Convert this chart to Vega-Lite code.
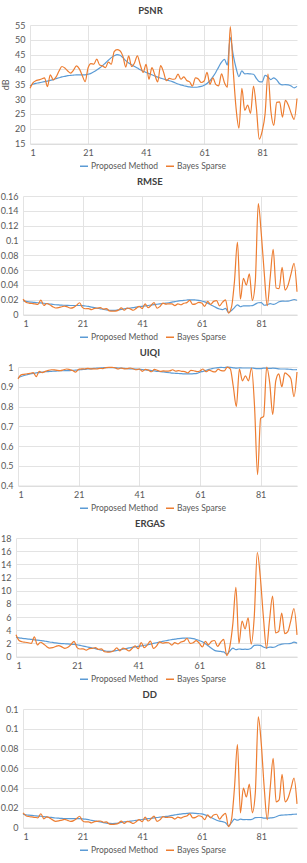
{
 "$schema": "https://vega.github.io/schema/vega-lite/v6.json",
 "padding": {"left": 0, "top": 5, "right": 0, "bottom": 0},
 "background": "white",
 "config": {
  "font": "Lato",
  "view": {"stroke": null},
  "axis": {"labelFont": "Lato", "labelFontSize": 9, "labelColor": "#595959", "gridColor": "#e3e3e3", "gridWidth": 1, "domain": false, "ticks": false, "titleFont": "Lato", "titleFontSize": 9, "titleColor": "#595959", "titleFontWeight": "normal"},
  "axisX": {"domain": true, "domainColor": "#d9d9d9", "labelPadding": 5},
  "axisY": {"labelPadding": 5},
  "title": {"font": "Lato", "fontSize": 9.5, "fontWeight": "bold", "color": "#404040", "anchor": "middle", "frame": "bounds", "offset": 6},
  "legend": {"orient": "none", "direction": "horizontal", "labelFont": "Lato", "labelFontSize": 8.5, "labelColor": "#595959", "symbolType": "stroke", "symbolSize": 64, "symbolStrokeWidth": 1.5, "title": null, "columnPadding": 4, "labelOffset": 2, "padding": 0, "legendY": 136}
 },
 "resolve": {"legend": {"color": "independent"}, "scale": {"color": "independent"}},
 "columns": 1,
 "spacing": 5,
 "align": "none",
 "bounds": "full",
 "datasets": {
  "d": [
{"x":1,"pp":34.5,"pb":33.7,"rp":0.0188,"rb":0.0207,"up":0.946,"ub":0.940,"ep":2.95,"eb":3.3,"dp":0.0137,"db":0.0149},
{"x":2,"pp":35.0,"pb":35.5,"rp":0.0178,"rb":0.0168,"up":0.952,"ub":0.960,"ep":2.85,"eb":2.44,"dp":0.0130,"db":0.0121},
{"x":3,"pp":35.3,"pb":36.2,"rp":0.0172,"rb":0.0155,"up":0.957,"ub":0.963,"ep":2.78,"eb":2.25,"dp":0.0126,"db":0.0112},
{"x":4,"pp":35.5,"pb":36.5,"rp":0.0168,"rb":0.0150,"up":0.961,"ub":0.966,"ep":2.72,"eb":2.18,"dp":0.0123,"db":0.0108},
{"x":5,"pp":35.7,"pb":36.8,"rp":0.0164,"rb":0.0145,"up":0.965,"ub":0.968,"ep":2.66,"eb":2.10,"dp":0.0120,"db":0.0104},
{"x":6,"pp":35.9,"pb":37.2,"rp":0.0160,"rb":0.0138,"up":0.968,"ub":0.972,"ep":2.60,"eb":2.00,"dp":0.0117,"db":0.0099},
{"x":7,"pp":36.1,"pb":34.2,"rp":0.0157,"rb":0.0195,"up":0.970,"ub":0.951,"ep":2.55,"eb":3.0,"dp":0.0115,"db":0.0140},
{"x":8,"pp":36.3,"pb":38.2,"rp":0.0153,"rb":0.0123,"up":0.972,"ub":0.978,"ep":2.50,"eb":1.78,"dp":0.0112,"db":0.0089},
{"x":9,"pp":36.6,"pb":36.5,"rp":0.0148,"rb":0.0150,"up":0.974,"ub":0.972,"ep":2.44,"eb":2.18,"dp":0.0108,"db":0.0108},
{"x":10,"pp":36.9,"pb":37.5,"rp":0.0143,"rb":0.0133,"up":0.976,"ub":0.978,"ep":2.38,"eb":1.93,"dp":0.0104,"db":0.0096},
{"x":11,"pp":37.2,"pb":39.5,"rp":0.0138,"rb":0.0106,"up":0.977,"ub":0.983,"ep":2.30,"eb":1.54,"dp":0.0101,"db":0.0076},
{"x":12,"pp":37.5,"pb":41.0,"rp":0.0133,"rb":0.0089,"up":0.978,"ub":0.986,"ep":2.22,"eb":1.29,"dp":0.0097,"db":0.0064},
{"x":13,"pp":37.7,"pb":40.5,"rp":0.0130,"rb":0.0094,"up":0.979,"ub":0.985,"ep":2.15,"eb":1.36,"dp":0.0095,"db":0.0068},
{"x":14,"pp":37.9,"pb":39.5,"rp":0.0127,"rb":0.0106,"up":0.980,"ub":0.983,"ep":2.08,"eb":1.54,"dp":0.0093,"db":0.0076},
{"x":15,"pp":38.0,"pb":38.8,"rp":0.0126,"rb":0.0115,"up":0.981,"ub":0.982,"ep":2.02,"eb":1.67,"dp":0.0092,"db":0.0083},
{"x":16,"pp":38.1,"pb":39.8,"rp":0.0124,"rb":0.0102,"up":0.981,"ub":0.986,"ep":1.98,"eb":1.48,"dp":0.0091,"db":0.0073},
{"x":17,"pp":38.2,"pb":41.2,"rp":0.0123,"rb":0.0087,"up":0.982,"ub":0.990,"ep":1.95,"eb":1.26,"dp":0.0090,"db":0.0063},
{"x":18,"pp":38.2,"pb":40.2,"rp":0.0123,"rb":0.0098,"up":0.982,"ub":0.987,"ep":1.92,"eb":1.42,"dp":0.0090,"db":0.0071},
{"x":19,"pp":38.2,"pb":38.0,"rp":0.0123,"rb":0.0126,"up":0.983,"ub":0.982,"ep":1.88,"eb":1.83,"dp":0.0090,"db":0.0091},
{"x":20,"pp":38.2,"pb":35.9,"rp":0.0123,"rb":0.0160,"up":0.984,"ub":0.974,"ep":1.85,"eb":2.32,"dp":0.0090,"db":0.0115},
{"x":21,"pp":38.4,"pb":40.5,"rp":0.0120,"rb":0.0094,"up":0.985,"ub":0.988,"ep":1.80,"eb":1.36,"dp":0.0088,"db":0.0068},
{"x":22,"pp":38.7,"pb":42.0,"rp":0.0116,"rb":0.0079,"up":0.987,"ub":0.991,"ep":1.70,"eb":1.15,"dp":0.0085,"db":0.0057},
{"x":23,"pp":39.2,"pb":41.8,"rp":0.0110,"rb":0.0081,"up":0.988,"ub":0.990,"ep":1.60,"eb":1.17,"dp":0.0080,"db":0.0058},
{"x":24,"pp":39.8,"pb":43.5,"rp":0.0102,"rb":0.0067,"up":0.990,"ub":0.993,"ep":1.50,"eb":0.97,"dp":0.0074,"db":0.0048},
{"x":25,"pp":40.5,"pb":41.5,"rp":0.0094,"rb":0.0084,"up":0.991,"ub":0.991,"ep":1.40,"eb":1.22,"dp":0.0069,"db":0.0060},
{"x":26,"pp":41.3,"pb":41.2,"rp":0.0086,"rb":0.0087,"up":0.993,"ub":0.991,"ep":1.30,"eb":1.26,"dp":0.0063,"db":0.0063},
{"x":27,"pp":42.2,"pb":40.6,"rp":0.0078,"rb":0.0093,"up":0.994,"ub":0.990,"ep":1.20,"eb":1.35,"dp":0.0057,"db":0.0067},
{"x":28,"pp":43.1,"pb":42.5,"rp":0.0070,"rb":0.0075,"up":0.995,"ub":0.993,"ep":1.08,"eb":1.09,"dp":0.0051,"db":0.0054},
{"x":29,"pp":44.0,"pb":41.8,"rp":0.0063,"rb":0.0081,"up":0.996,"ub":0.992,"ep":0.97,"eb":1.17,"dp":0.0046,"db":0.0058},
{"x":30,"pp":44.6,"pb":46.0,"rp":0.0059,"rb":0.0050,"up":0.997,"ub":0.997,"ep":0.88,"eb":0.73,"dp":0.0043,"db":0.0036},
{"x":31,"pp":45.0,"pb":46.7,"rp":0.0056,"rb":0.0046,"up":0.997,"ub":0.998,"ep":0.80,"eb":0.67,"dp":0.0041,"db":0.0033},
{"x":32,"pp":44.8,"pb":46.3,"rp":0.0058,"rb":0.0048,"up":0.997,"ub":0.998,"ep":0.80,"eb":0.70,"dp":0.0042,"db":0.0035},
{"x":33,"pp":44.0,"pb":44.5,"rp":0.0063,"rb":0.0060,"up":0.996,"ub":0.996,"ep":0.85,"eb":0.87,"dp":0.0046,"db":0.0043},
{"x":34,"pp":43.0,"pb":40.8,"rp":0.0071,"rb":0.0091,"up":0.995,"ub":0.990,"ep":0.93,"eb":1.32,"dp":0.0052,"db":0.0066},
{"x":35,"pp":42.2,"pb":44.6,"rp":0.0078,"rb":0.0059,"up":0.994,"ub":0.995,"ep":1.02,"eb":0.86,"dp":0.0057,"db":0.0042},
{"x":36,"pp":41.6,"pb":41.0,"rp":0.0083,"rb":0.0089,"up":0.993,"ub":0.991,"ep":1.12,"eb":1.29,"dp":0.0061,"db":0.0064},
{"x":37,"pp":41.0,"pb":42.2,"rp":0.0089,"rb":0.0078,"up":0.992,"ub":0.992,"ep":1.22,"eb":1.13,"dp":0.0065,"db":0.0056},
{"x":38,"pp":40.5,"pb":44.6,"rp":0.0094,"rb":0.0059,"up":0.991,"ub":0.995,"ep":1.32,"eb":0.86,"dp":0.0069,"db":0.0042},
{"x":39,"pp":39.9,"pb":41.5,"rp":0.0101,"rb":0.0084,"up":0.990,"ub":0.991,"ep":1.40,"eb":1.22,"dp":0.0074,"db":0.0060},
{"x":40,"pp":39.4,"pb":39.0,"rp":0.0107,"rb":0.0112,"up":0.989,"ub":0.986,"ep":1.48,"eb":1.62,"dp":0.0078,"db":0.0081},
{"x":41,"pp":39.0,"pb":41.7,"rp":0.0112,"rb":0.0082,"up":0.988,"ub":0.990,"ep":1.55,"eb":1.19,"dp":0.0082,"db":0.0059},
{"x":42,"pp":38.6,"pb":36.7,"rp":0.0117,"rb":0.0146,"up":0.987,"ub":0.978,"ep":1.63,"eb":2.12,"dp":0.0085,"db":0.0105},
{"x":43,"pp":38.2,"pb":40.6,"rp":0.0123,"rb":0.0093,"up":0.985,"ub":0.988,"ep":1.72,"eb":1.35,"dp":0.0090,"db":0.0067},
{"x":44,"pp":37.8,"pb":38.2,"rp":0.0129,"rb":0.0123,"up":0.984,"ub":0.984,"ep":1.80,"eb":1.78,"dp":0.0094,"db":0.0089},
{"x":45,"pp":37.4,"pb":35.8,"rp":0.0135,"rb":0.0162,"up":0.982,"ub":0.976,"ep":1.90,"eb":2.35,"dp":0.0099,"db":0.0117},
{"x":46,"pp":37.1,"pb":41.3,"rp":0.0140,"rb":0.0086,"up":0.980,"ub":0.988,"ep":2.00,"eb":1.25,"dp":0.0102,"db":0.0062},
{"x":47,"pp":36.8,"pb":39.2,"rp":0.0145,"rb":0.0110,"up":0.978,"ub":0.983,"ep":2.10,"eb":1.60,"dp":0.0106,"db":0.0079},
{"x":48,"pp":36.5,"pb":36.2,"rp":0.0150,"rb":0.0155,"up":0.977,"ub":0.978,"ep":2.20,"eb":2.25,"dp":0.0110,"db":0.0112},
{"x":49,"pp":36.2,"pb":37.0,"rp":0.0155,"rb":0.0141,"up":0.975,"ub":0.980,"ep":2.30,"eb":2.04,"dp":0.0113,"db":0.0102},
{"x":50,"pp":35.9,"pb":36.7,"rp":0.0160,"rb":0.0146,"up":0.973,"ub":0.979,"ep":2.40,"eb":2.12,"dp":0.0117,"db":0.0105},
{"x":51,"pp":35.5,"pb":36.8,"rp":0.0168,"rb":0.0145,"up":0.971,"ub":0.980,"ep":2.50,"eb":2.10,"dp":0.0123,"db":0.0104},
{"x":52,"pp":35.1,"pb":38.4,"rp":0.0176,"rb":0.0120,"up":0.969,"ub":0.986,"ep":2.58,"eb":1.74,"dp":0.0128,"db":0.0086},
{"x":53,"pp":34.8,"pb":36.7,"rp":0.0182,"rb":0.0146,"up":0.968,"ub":0.979,"ep":2.66,"eb":2.12,"dp":0.0133,"db":0.0105},
{"x":54,"pp":34.5,"pb":37.5,"rp":0.0188,"rb":0.0133,"up":0.967,"ub":0.982,"ep":2.72,"eb":1.93,"dp":0.0137,"db":0.0096},
{"x":55,"pp":34.3,"pb":36.3,"rp":0.0193,"rb":0.0153,"up":0.966,"ub":0.978,"ep":2.78,"eb":2.22,"dp":0.0141,"db":0.0110},
{"x":56,"pp":34.1,"pb":35.8,"rp":0.0197,"rb":0.0162,"up":0.965,"ub":0.977,"ep":2.80,"eb":2.35,"dp":0.0144,"db":0.0117},
{"x":57,"pp":34.0,"pb":34.4,"rp":0.0200,"rb":0.0191,"up":0.965,"ub":0.970,"ep":2.82,"eb":2.77,"dp":0.0146,"db":0.0138},
{"x":58,"pp":34.0,"pb":37.2,"rp":0.0200,"rb":0.0138,"up":0.965,"ub":0.983,"ep":2.80,"eb":2.00,"dp":0.0146,"db":0.0099},
{"x":59,"pp":34.1,"pb":36.8,"rp":0.0197,"rb":0.0145,"up":0.966,"ub":0.981,"ep":2.72,"eb":2.10,"dp":0.0144,"db":0.0104},
{"x":60,"pp":34.3,"pb":35.6,"rp":0.0193,"rb":0.0166,"up":0.968,"ub":0.977,"ep":2.60,"eb":2.41,"dp":0.0141,"db":0.0120},
{"x":61,"pp":34.7,"pb":36.1,"rp":0.0184,"rb":0.0157,"up":0.974,"ub":0.980,"ep":2.45,"eb":2.04,"dp":0.0138,"db":0.0113},
{"x":62,"pp":35.3,"pb":39.0,"rp":0.0172,"rb":0.0112,"up":0.978,"ub":0.990,"ep":2.25,"eb":1.46,"dp":0.0130,"db":0.0081},
{"x":63,"pp":36.2,"pb":35.0,"rp":0.0155,"rb":0.0178,"up":0.983,"ub":0.976,"ep":1.95,"eb":2.31,"dp":0.0120,"db":0.0128},
{"x":64,"pp":37.5,"pb":37.2,"rp":0.0133,"rb":0.0138,"up":0.988,"ub":0.984,"ep":1.60,"eb":1.79,"dp":0.0105,"db":0.0099},
{"x":65,"pp":39.0,"pb":35.0,"rp":0.0112,"rb":0.0178,"up":0.992,"ub":0.978,"ep":1.25,"eb":2.31,"dp":0.0090,"db":0.0128},
{"x":66,"pp":40.8,"pb":34.5,"rp":0.0091,"rb":0.0188,"up":0.995,"ub":0.975,"ep":0.95,"eb":2.44,"dp":0.0075,"db":0.0135},
{"x":67,"pp":42.5,"pb":38.5,"rp":0.0075,"rb":0.0119,"up":0.997,"ub":0.989,"ep":0.82,"eb":1.55,"dp":0.0065,"db":0.0086},
{"x":68,"pp":43.4,"pb":35.5,"rp":0.0068,"rb":0.0168,"up":0.998,"ub":0.982,"ep":0.78,"eb":2.18,"dp":0.0060,"db":0.0121},
{"x":69,"pp":41.5,"pb":34.0,"rp":0.0084,"rb":0.0200,"up":0.997,"ub":0.980,"ep":0.72,"eb":2.60,"dp":0.0050,"db":0.0144},
{"x":70,"pp":50.8,"pb":54.5,"rp":0.0029,"rb":0.0019,"up":0.999,"ub":0.999,"ep":0.36,"eb":0.15,"dp":0.0017,"db":0.0010},
{"x":71,"pp":45.0,"pb":40.0,"rp":0.0056,"rb":0.0100,"up":0.998,"ub":0.990,"ep":0.85,"eb":1.5,"dp":0.0050,"db":0.0080},
{"x":72,"pp":40.5,"pb":27.0,"rp":0.0094,"rb":0.0447,"up":0.996,"ub":0.900,"ep":1.30,"eb":5.0,"dp":0.0085,"db":0.0400},
{"x":73,"pp":37.6,"pb":20.2,"rp":0.0132,"rb":0.0977,"up":0.994,"ub":0.800,"ep":1.05,"eb":10.5,"dp":0.0075,"db":0.0840},
{"x":74,"pp":39.5,"pb":33.6,"rp":0.0106,"rb":0.0209,"up":0.996,"ub":0.990,"ep":1.15,"eb":2.0,"dp":0.0085,"db":0.0150},
{"x":75,"pp":38.5,"pb":26.2,"rp":0.0119,"rb":0.0490,"up":0.995,"ub":0.930,"ep":1.10,"eb":5.4,"dp":0.0080,"db":0.0400},
{"x":76,"pp":38.6,"pb":28.0,"rp":0.0117,"rb":0.0398,"up":0.995,"ub":0.955,"ep":1.12,"eb":4.2,"dp":0.0082,"db":0.0310},
{"x":77,"pp":38.5,"pb":25.2,"rp":0.0119,"rb":0.0550,"up":0.995,"ub":0.930,"ep":1.10,"eb":5.9,"dp":0.0080,"db":0.0440},
{"x":78,"pp":38.4,"pb":34.4,"rp":0.0120,"rb":0.0191,"up":0.995,"ub":0.995,"ep":1.25,"eb":1.9,"dp":0.0085,"db":0.0150},
{"x":79,"pp":37.0,"pb":27.0,"rp":0.0141,"rb":0.0447,"up":0.993,"ub":0.800,"ep":1.70,"eb":6.0,"dp":0.0100,"db":0.0350},
{"x":80,"pp":35.9,"pb":16.5,"rp":0.0160,"rb":0.1496,"up":0.992,"ub":0.455,"ep":1.75,"eb":15.8,"dp":0.0102,"db":0.1120},
{"x":81,"pp":35.8,"pb":19.2,"rp":0.0162,"rb":0.1096,"up":0.992,"ub":0.740,"ep":1.70,"eb":12.0,"dp":0.0102,"db":0.0850},
{"x":82,"pp":38.0,"pb":25.0,"rp":0.0126,"rb":0.0562,"up":0.994,"ub":0.750,"ep":1.45,"eb":6.0,"dp":0.0095,"db":0.0400},
{"x":83,"pp":37.5,"pb":38.4,"rp":0.0133,"rb":0.0120,"up":0.994,"ub":1.000,"ep":1.30,"eb":1.3,"dp":0.0095,"db":0.0080},
{"x":84,"pp":36.6,"pb":26.0,"rp":0.0148,"rb":0.0501,"up":0.993,"ub":0.920,"ep":1.45,"eb":5.5,"dp":0.0098,"db":0.0400},
{"x":85,"pp":37.2,"pb":21.1,"rp":0.0138,"rb":0.0881,"up":0.994,"ub":0.760,"ep":1.40,"eb":9.2,"dp":0.0100,"db":0.0700},
{"x":86,"pp":36.5,"pb":28.9,"rp":0.0150,"rb":0.0359,"up":0.993,"ub":0.930,"ep":1.50,"eb":3.6,"dp":0.0110,"db":0.0260},
{"x":87,"pp":35.2,"pb":29.1,"rp":0.0174,"rb":0.0351,"up":0.991,"ub":0.965,"ep":1.75,"eb":3.8,"dp":0.0122,"db":0.0280},
{"x":88,"pp":34.8,"pb":23.9,"rp":0.0182,"rb":0.0638,"up":0.990,"ub":0.900,"ep":1.90,"eb":6.6,"dp":0.0126,"db":0.0540},
{"x":89,"pp":34.9,"pb":29.6,"rp":0.0180,"rb":0.0331,"up":0.990,"ub":0.970,"ep":1.95,"eb":3.5,"dp":0.0128,"db":0.0260},
{"x":90,"pp":34.8,"pb":28.0,"rp":0.0182,"rb":0.0398,"up":0.989,"ub":0.960,"ep":1.95,"eb":3.8,"dp":0.0130,"db":0.0300},
{"x":91,"pp":34.4,"pb":25.2,"rp":0.0191,"rb":0.0550,"up":0.988,"ub":0.940,"ep":2.00,"eb":5.5,"dp":0.0132,"db":0.0400},
{"x":92,"pp":33.8,"pb":23.2,"rp":0.0204,"rb":0.0692,"up":0.986,"ub":0.850,"ep":2.20,"eb":7.3,"dp":0.0135,"db":0.0500},
{"x":93,"pp":34.3,"pb":30.2,"rp":0.0193,"rb":0.0309,"up":0.987,"ub":0.975,"ep":2.05,"eb":3.3,"dp":0.0136,"db":0.0240}
  ]
 },
 "concat": [
  {
   "title": "PSNR",
   "width": 281, "height": 118.6,
   "data": {"name": "d"},
   "transform": [{"fold": ["pp", "pb"], "as": ["s", "v"]}],
   "mark": {"type": "line", "interpolate": "monotone", "strokeWidth": 1.2},
   "encoding": {
    "x": {"field": "x", "type": "quantitative", "scale": {"domain": [1, 93], "range": [14, 281], "nice": false, "zero": false}, "axis": {"values": [1, 21, 41, 61, 81], "title": null, "format": "d"}},
    "y": {"field": "v", "type": "quantitative", "scale": {"domain": [15, 55], "nice": false, "zero": false}, "axis": {"values": [15, 20, 25, 30, 35, 40, 45, 50, 55], "offset": -14, "title": "dB", "titlePadding": 4, "format": "~g"}},
    "color": {"field": "s", "type": "nominal", "scale": {"domain": ["pp", "pb"], "range": ["#5B9BD5", "#ED7D31"]}, "legend": {"legendX": 63, "labelExpr": "datum.value == 'pp' ? 'Proposed Method' : 'Bayes Sparse'"}}
   }
  },
  {
   "title": "RMSE",
   "width": 281, "height": 118.6,
   "data": {"name": "d"},
   "transform": [{"fold": ["rp", "rb"], "as": ["s", "v"]}],
   "mark": {"type": "line", "interpolate": "monotone", "strokeWidth": 1.2},
   "encoding": {
    "x": {"field": "x", "type": "quantitative", "scale": {"domain": [1, 93], "range": [7, 281], "nice": false, "zero": false}, "axis": {"values": [1, 21, 41, 61, 81], "title": null, "format": "d"}},
    "y": {"field": "v", "type": "quantitative", "scale": {"domain": [0, 0.16], "nice": false}, "axis": {"values": [0, 0.02, 0.04, 0.06, 0.08, 0.1, 0.12, 0.14, 0.16], "offset": -7, "title": null, "format": "~g"}},
    "color": {"field": "s", "type": "nominal", "scale": {"domain": ["rp", "rb"], "range": ["#5B9BD5", "#ED7D31"]}, "legend": {"legendX": 63, "labelExpr": "datum.value == 'rp' ? 'Proposed Method' : 'Bayes Sparse'"}}
   }
  },
  {
   "title": "UIQI",
   "width": 281, "height": 118.6,
   "data": {"name": "d"},
   "transform": [{"fold": ["up", "ub"], "as": ["s", "v"]}],
   "mark": {"type": "line", "interpolate": "monotone", "strokeWidth": 1.2},
   "encoding": {
    "x": {"field": "x", "type": "quantitative", "scale": {"domain": [1, 93], "range": [2, 281], "nice": false, "zero": false}, "axis": {"values": [1, 21, 41, 61, 81], "title": null, "format": "d"}},
    "y": {"field": "v", "type": "quantitative", "scale": {"domain": [0.4, 1], "nice": false, "zero": false}, "axis": {"values": [0.4, 0.5, 0.6, 0.7, 0.8, 0.9, 1], "offset": -2, "title": null, "format": "~g"}},
    "color": {"field": "s", "type": "nominal", "scale": {"domain": ["up", "ub"], "range": ["#5B9BD5", "#ED7D31"]}, "legend": {"legendX": 63, "labelExpr": "datum.value == 'up' ? 'Proposed Method' : 'Bayes Sparse'"}}
   }
  },
  {
   "title": "ERGAS",
   "width": 281, "height": 118.6,
   "data": {"name": "d"},
   "transform": [{"fold": ["ep", "eb"], "as": ["s", "v"]}],
   "mark": {"type": "line", "interpolate": "monotone", "strokeWidth": 1.2},
   "encoding": {
    "x": {"field": "x", "type": "quantitative", "scale": {"domain": [1, 93], "range": [0, 281], "nice": false, "zero": false}, "axis": {"values": [1, 21, 41, 61, 81], "title": null, "format": "d"}},
    "y": {"field": "v", "type": "quantitative", "scale": {"domain": [0, 18], "nice": false}, "axis": {"values": [0, 2, 4, 6, 8, 10, 12, 14, 16, 18], "title": null, "format": "~g"}},
    "color": {"field": "s", "type": "nominal", "scale": {"domain": ["ep", "eb"], "range": ["#5B9BD5", "#ED7D31"]}, "legend": {"legendX": 63, "labelExpr": "datum.value == 'ep' ? 'Proposed Method' : 'Bayes Sparse'"}}
   }
  },
  {
   "title": "DD",
   "width": 281, "height": 118.6,
   "data": {"name": "d"},
   "transform": [{"fold": ["dp", "db"], "as": ["s", "v"]}],
   "mark": {"type": "line", "interpolate": "monotone", "strokeWidth": 1.2},
   "encoding": {
    "x": {"field": "x", "type": "quantitative", "scale": {"domain": [1, 93], "range": [7, 281], "nice": false, "zero": false}, "axis": {"values": [1, 21, 41, 61, 81], "title": null, "format": "d"}},
    "y": {"field": "v", "type": "quantitative", "scale": {"domain": [0, 0.12], "nice": false}, "axis": {"values": [0, 0.02, 0.04, 0.06, 0.08, 0.1, 0.12], "offset": -7, "title": null, "format": "~g"}},
    "color": {"field": "s", "type": "nominal", "scale": {"domain": ["dp", "db"], "range": ["#5B9BD5", "#ED7D31"]}, "legend": {"legendX": 63, "labelExpr": "datum.value == 'dp' ? 'Proposed Method' : 'Bayes Sparse'"}}
   }
  }
 ]
}
